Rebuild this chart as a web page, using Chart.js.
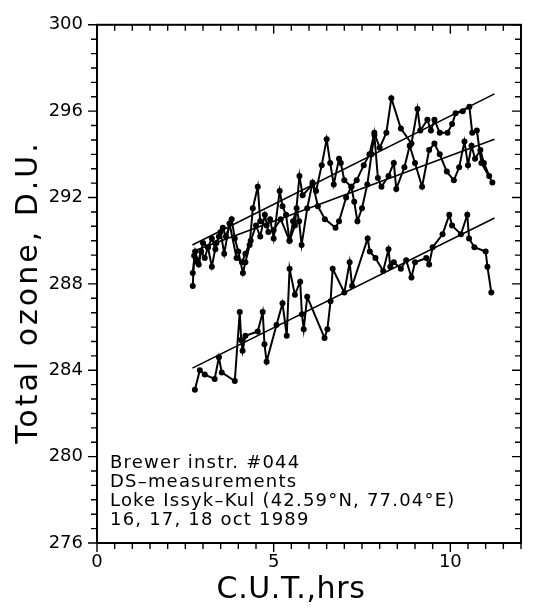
<!DOCTYPE html>
<html>
<head>
<meta charset="utf-8">
<script src="https://cdn.jsdelivr.net/npm/chart.js@4"></script>
<style>
  body { margin: 0; background: #fff; }
</style>
</head>
<body>
<canvas id="ozoneChart" width="541" height="608"></canvas>
<script>
        // Brewer #044 DS measurements, three days (hours UT / total ozone DU)
        const hoursA = [2.71, 2.75, 2.85, 2.95, 3.05, 3.14, 3.25, 3.35, 3.45, 3.56, 3.65, 3.81, 3.9, 4.0, 4.13, 4.2, 4.32, 4.41, 4.55, 4.62, 4.8, 4.9, 5.0, 5.17, 5.25, 5.35, 5.45, 5.6, 5.73, 5.82, 6.1, 6.2, 6.36, 6.5, 6.6, 6.7, 6.85, 6.9, 7.0, 7.2, 7.35, 7.55, 7.71, 7.85, 8.0, 8.19, 8.33, 8.6, 8.9, 9.07, 9.15, 9.35, 9.45, 9.55, 9.7, 9.92, 10.05, 10.15, 10.35, 10.54, 10.62, 10.75, 10.88, 11.19];
        const ozoneA = [287.9, 289.3, 289.0, 289.5, 289.2, 289.7, 290.1, 289.6, 290.2, 290.6, 290.2, 291.0, 290.1, 289.5, 288.5, 289.0, 289.8, 291.5, 292.5, 290.9, 290.7, 291.0, 290.1, 292.3, 291.6, 291.2, 290.0, 290.7, 293.0, 292.1, 292.6, 292.3, 293.5, 294.7, 293.6, 292.6, 293.8, 293.6, 292.8, 292.5, 292.8, 293.5, 294.0, 295.0, 294.3, 295.0, 296.6, 295.2, 294.5, 296.1, 295.1, 295.6, 295.1, 295.6, 295.0, 295.0, 295.4, 295.9, 296.0, 296.2, 295.0, 295.1, 293.6, 292.7];

        const hoursB = [2.71, 2.78, 2.88, 3.0, 3.14, 3.25, 3.38, 3.5, 3.6, 3.75, 3.95, 4.1, 4.2, 4.35, 4.5, 4.62, 4.75, 4.85, 5.0, 5.2, 5.45, 5.55, 5.65, 5.72, 5.79, 5.95, 6.1, 6.25, 6.45, 6.75, 6.85, 7.05, 7.2, 7.28, 7.37, 7.5, 7.65, 7.77, 7.85, 7.95, 8.05, 8.25, 8.4, 8.47, 8.7, 8.85, 9.0, 9.2, 9.4, 9.55, 9.7, 9.9, 10.1, 10.25, 10.4, 10.5, 10.6, 10.7, 10.85, 10.95, 11.1];
        const ozoneB = [288.5, 289.5, 288.9, 289.9, 289.7, 288.8, 289.9, 290.4, 289.4, 290.8, 289.2, 289.0, 289.4, 290.0, 290.7, 290.2, 291.2, 290.4, 290.5, 291.0, 290.0, 290.9, 291.5, 290.9, 289.8, 291.5, 292.7, 291.6, 291.0, 290.6, 290.9, 292.0, 292.5, 291.8, 290.9, 291.5, 292.6, 294.0, 294.9, 292.9, 292.5, 293.0, 293.6, 292.4, 293.4, 294.4, 293.6, 292.5, 294.2, 294.5, 294.0, 293.2, 292.8, 293.4, 294.6, 293.5, 294.4, 293.8, 294.2, 293.6, 293.0];

        const hoursC = [2.77, 2.91, 3.05, 3.33, 3.45, 3.53, 3.9, 4.04, 4.08, 4.12, 4.2, 4.55, 4.69, 4.74, 4.8, 5.08, 5.25, 5.37, 5.45, 5.6, 5.75, 5.8, 5.85, 5.95, 6.44, 6.52, 6.61, 6.67, 7.0, 7.15, 7.22, 7.66, 7.72, 7.88, 8.1, 8.25, 8.3, 8.4, 8.6, 8.75, 8.9, 9.0, 9.32, 9.4, 9.5, 9.78, 9.97, 10.05, 10.3, 10.48, 10.53, 10.68, 11.0, 11.05, 11.16];
        const ozoneC = [283.1, 284.0, 283.8, 283.6, 284.6, 283.9, 283.5, 286.7, 285.4, 284.9, 285.6, 285.8, 286.7, 285.2, 284.4, 286.1, 287.1, 285.6, 288.7, 287.5, 288.1, 286.6, 285.9, 287.4, 285.5, 285.9, 287.2, 288.7, 287.6, 289.0, 287.9, 290.1, 289.5, 289.2, 288.6, 289.6, 288.8, 289.0, 288.7, 289.1, 288.3, 289.0, 289.2, 288.9, 289.7, 290.3, 291.2, 290.7, 290.3, 291.2, 290.1, 289.7, 289.5, 288.8, 287.6];

        // linear fits: [start, end]
        const fitHours = [2.7, 11.25];
        const fitA = [289.8, 296.8];
        const fitB = [289.5, 294.7];
        const fitC = [284.1, 291.05];

        const xTicks = [0, 5, 10];
        const yTicks = [276, 280, 284, 288, 292, 296, 300];

        const xTitle = 'C.U.T.,hrs';
        const yTitle = 'Total ozone, D.U.';
        const noteLines = [
            'Brewer instr. #044',
            'DS\u2013measurements',
            'Loke Issyk\u2013Kul (42.59\u00b0N, 77.04\u00b0E)',
            '16, 17, 18 oct 1989'
        ];

        const toPoints = (xs, ys) => xs.map((x, i) => ({ x: x, y: ys[i] }));

        const measured = (pts) => ({
            data: pts,
            showLine: true,
            borderColor: '#000',
            backgroundColor: '#000',
            borderWidth: 2,
            pointRadius: 3,
            pointBorderWidth: 0
        });
        const fitted = (ys) => ({
            data: toPoints(fitHours, ys),
            showLine: true,
            borderColor: '#000',
            borderWidth: 1.6,
            pointRadius: 0
        });

        // frame with minor ticks, axis titles and the note text
        const framePlugin = {
            id: 'frame',
            afterDatasetsDraw(chart) {
                const { ctx, chartArea: a, scales: { x, y } } = chart;
                ctx.save();
                ctx.strokeStyle = '#000';
                ctx.lineWidth = 2;
                ctx.strokeRect(a.left, a.top, a.right - a.left, a.bottom - a.top);
                ctx.lineWidth = 1.4;
                ctx.beginPath();
                for (let i = 0; i <= 24; i++) {
                    const px = x.getPixelForValue(i * 0.5);
                    const len = i % 10 === 0 ? 9 : 6;
                    ctx.moveTo(px, a.bottom); ctx.lineTo(px, a.bottom + len);
                    ctx.moveTo(px, a.top); ctx.lineTo(px, a.top + len);
                }
                for (let i = 0; i <= 36; i++) {
                    const py = y.getPixelForValue(276 + i * 4 / 6);
                    const len = i % 6 === 0 ? 9 : 6;
                    ctx.moveTo(a.left, py); ctx.lineTo(a.left - len, py);
                    ctx.moveTo(a.right, py); ctx.lineTo(a.right - len, py);
                }
                ctx.stroke();

                ctx.fillStyle = '#000';
                ctx.font = '18px "DejaVu Sans"';
                ctx.letterSpacing = '1.2px';
                ctx.textBaseline = 'middle';
                ctx.textAlign = 'left';
                noteLines.forEach((t, i) => ctx.fillText(t, 110, 463 + i * 19));

                ctx.font = '30px "DejaVu Sans"';
                ctx.textAlign = 'center';
                ctx.letterSpacing = '0.6px';
                ctx.fillText(xTitle, 291, 590);

                ctx.translate(29, 292);
                ctx.rotate(-Math.PI / 2);
                ctx.letterSpacing = '3px';
                ctx.fillText(yTitle, 0, 0);
                ctx.restore();
            }
        };

        new Chart(document.getElementById('ozoneChart'), {
            type: 'scatter',
            data: {
                datasets: [
                    measured(toPoints(hoursA, ozoneA)),
                    measured(toPoints(hoursB, ozoneB)),
                    measured(toPoints(hoursC, ozoneC)),
                    fitted(fitA),
                    fitted(fitB),
                    fitted(fitC)
                ]
            },
            options: {
                responsive: false,
                animation: false,
                layout: { padding: { top: 15, right: 20, left: 0, bottom: 0 } },
                plugins: {
                    legend: { display: false },
                    tooltip: { enabled: false }
                },
                scales: {
                    x: {
                        type: 'linear',
                        min: 0,
                        max: 12,
                        afterFit: (s) => { s.height = 65; },
                        afterBuildTicks: (s) => { s.ticks = xTicks.map(v => ({ value: v })); },
                        grid: { display: false, drawTicks: false },
                        border: { display: false },
                        ticks: {
                            padding: 9,
                            color: '#000',
                            font: { family: 'DejaVu Sans', size: 18 },
                            maxRotation: 0
                        }
                    },
                    y: {
                        type: 'linear',
                        min: 276,
                        max: 300,
                        afterFit: (s) => { s.width = 97; },
                        afterBuildTicks: (s) => { s.ticks = yTicks.map(v => ({ value: v })); },
                        grid: { display: false, drawTicks: false },
                        border: { display: false },
                        ticks: {
                            padding: 14,
                            color: '#000',
                            font: { family: 'DejaVu Sans', size: 18 }
                        }
                    }
                }
            },
            plugins: [framePlugin]
        });
</script>
</body>
</html>
